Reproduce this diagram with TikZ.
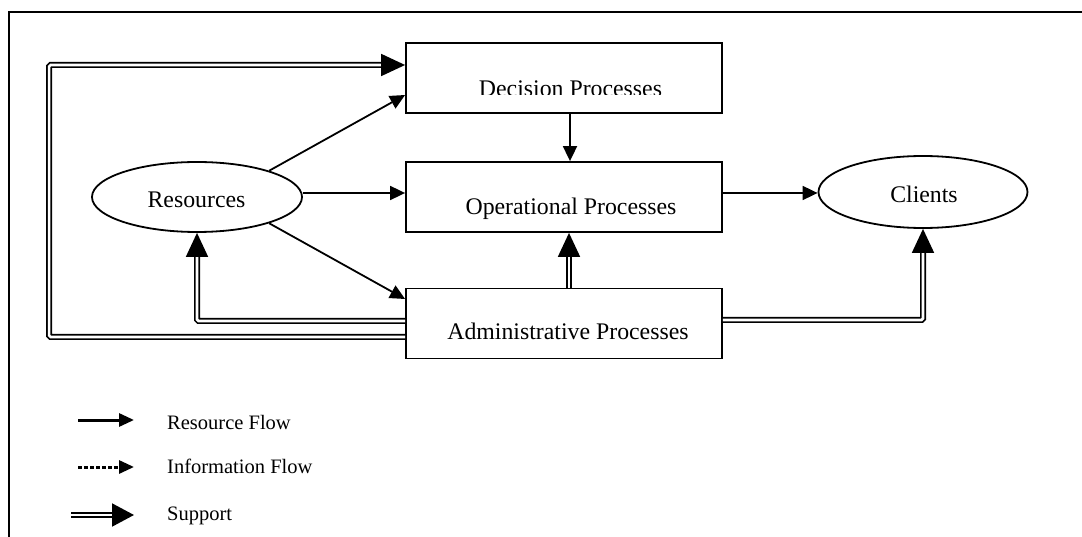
\documentclass[tikz,border=0pt]{standalone}
\usepackage{fontspec}
\setmainfont{Liberation Serif}
\usetikzlibrary{arrows.meta,shapes.geometric}
\tikzset{
  box/.style={draw,line width=1.8pt,minimum width=316pt,minimum height=70pt,inner sep=0pt},
  oval/.style={draw,ellipse,line width=1.8pt,inner sep=0pt},
  lbl/.style={font=\fontsize{23.8}{28}\selectfont,inner sep=0pt,anchor=base},
  leg/.style={font=\fontsize{20.5}{24}\selectfont,inner sep=0pt,anchor=base west},
  flow/.style={line width=1.8pt,-{Triangle[length=15pt,width=14pt]}},
  support/.style={double,line width=1.7pt,double distance=2.6pt,rounded corners=1.5pt,
    -{Triangle[length=24pt,width=22pt]}},
}
\begin{document}
\begin{tikzpicture}[x=1pt,y=-1pt]
\useasboundingbox (0,0) rectangle (1082,537);
% frame
\draw[line width=2pt] (8.5,537) -- (8.5,12.5) -- (1082,12.5);
% boxes
\node[box] (dec) at (564,78) {};
\node[box] (ope) at (564,197) {};
\node[box] (adm) at (564,323.5) {};
\node[oval,minimum width=210pt,minimum height=70pt] (res) at (197,197) {};
\node[oval,minimum width=209pt,minimum height=72pt] (cli) at (923,192) {};
% texts
\begin{scope}
\clip (406,43) rectangle (722,95);
\node[lbl] (dect) at (570.5,96.5) {Decision Processes};
\end{scope}
\node[lbl] (opet) at (571,215) {Operational Processes};
\node[lbl] (admt) at (568,340) {Administrative Processes};
\node[lbl] (rest) at (196.5,208) {Resources};
\node[lbl] (clit) at (924,203) {Clients};
% resource flows
\draw[flow] (res.20) -- ([yshift=-17pt]dec.west);
\draw[flow] ([yshift=4pt]res.east) -- ([yshift=4pt]ope.west);
\draw[flow] (res.-20) -- ([yshift=24.5pt]adm.west);
\draw[flow] ([xshift=6pt]dec.south) -- ([xshift=6pt]ope.north);
\draw[flow] ([yshift=4pt]ope.east) -- ([yshift=4pt]ope.east -| cli.west);
% support
\draw[support] ([xshift=5pt]adm.north) -- ([xshift=5pt]ope.south);
\draw[support] ([yshift=2.5pt]adm.west) -| (res.south);
\draw[support] ([yshift=3.5pt]adm.east) -| (cli.south);
\draw[support] ([yshift=-13.5pt]adm.west) -- ++(-356,0) |- ([yshift=13pt]dec.west);
% legend
\coordinate (l1a) at (78,420); \coordinate (l1b) at (134,420);
\coordinate (l2a) at (78,467); \coordinate (l2b) at (134,467);
\coordinate (l3a) at (71,515); \coordinate (l3b) at (134,515);
\draw[line width=3pt,-{Triangle[length=15pt,width=13pt]}] (l1a) -- (l1b);
\draw[line width=3pt,dash pattern=on 3.5pt off 2.5pt,-{Triangle[length=15pt,width=13pt]}] (l2a) -- (l2b);
\draw[double,line width=2pt,double distance=2.5pt,-{Triangle[length=22pt,width=23pt]}] (l3a) -- (l3b);
\node[leg] (t1) at (167,429) {Resource Flow};
\node[leg] (t2) at (167,473) {Information Flow};
\node[leg] (t3) at (167,520) {Support};
\end{tikzpicture}
\end{document}
